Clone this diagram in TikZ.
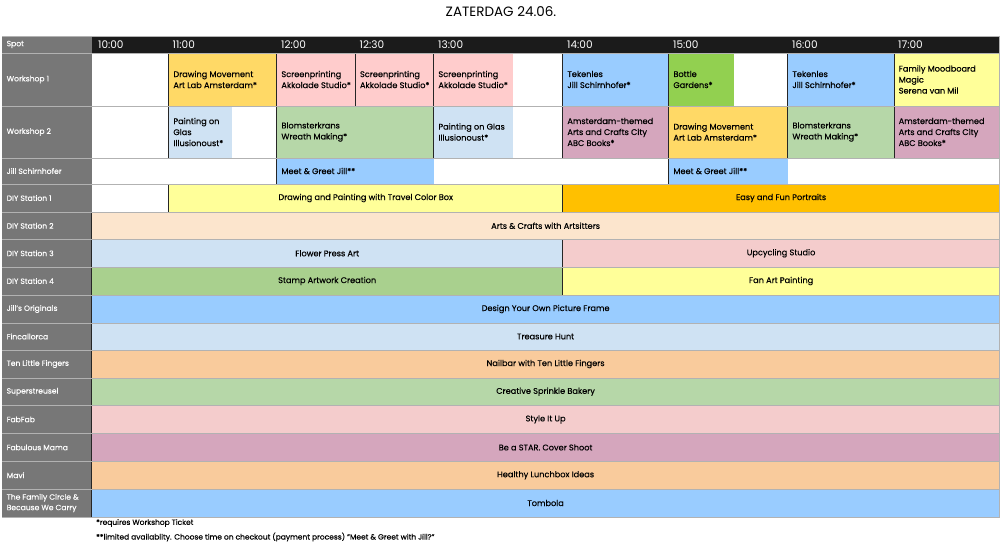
\documentclass[tikz,border=0pt]{standalone}
\usepackage{fontspec}
\setmainfont[FakeBold=0.35]{Poppins}
\newfontfamily\titlefont{Poppins}
\usepackage{tikz}

\definecolor{ochre}{HTML}{FFD966}
\definecolor{rose}{HTML}{FFCCCC}
\definecolor{sky}{HTML}{99CCFF}
\definecolor{lime}{HTML}{92D050}
\definecolor{lemon}{HTML}{FFFF99}
\definecolor{ice}{HTML}{CFE2F3}
\definecolor{sage}{HTML}{B6D7A8}
\definecolor{mauve}{HTML}{D5A6BD}
\definecolor{amber}{HTML}{FFC000}
\definecolor{peach}{HTML}{FCE5CD}
\definecolor{blush}{HTML}{F4CCCC}
\definecolor{moss}{HTML}{A9D08E}
\definecolor{apricot}{HTML}{F9CB9C}
\definecolor{spotgrey}{HTML}{777777}
\definecolor{headblack}{HTML}{1B1B1B}

\newcommand\slot[7]{%
  \fill[#6] (#2,#4) rectangle (#3,#5);
  \draw[edge] (#2,#4) -- (#2,#5);
  \node[txt,anchor=west] (#1) at ({#2+4.5},{(#4+#5)/2}) {#7};}
\newcommand\band[7]{%
  \fill[#6] (#2,#4) rectangle (#3,#5);
  \draw[edge] (#2,#4) -- (#2,#5);
  \node[txt] (#1) at ({(#2+#3)/2},{(#4+#5)/2}) {#7};}
\newcommand\spot[4]{%
  \node[lbl] (#1) at (6.5,{(#2+#3)/2}) {#4};}
\newcommand\hour[3]{%
  \node[hr] (#1) at (#2,44.5) {#3};}

\begin{document}
\begin{tikzpicture}[x=1pt,y=-1pt,
    txt/.style={inner sep=0pt,align=left,font=\fontsize{8.2}{11}\selectfont},
    lbl/.style={anchor=west,inner sep=0pt,align=left,text=white,font=\fontsize{7.6}{10.5}\selectfont},
    hr/.style={anchor=west,inner sep=0pt,text=white,font=\titlefont\fontsize{10.5}{11}\selectfont},
    edge/.style={draw=black!85,line width=0.8pt},
    rule/.style={draw=black!30,line width=0.9pt}]
  \useasboundingbox (0,0) rectangle (1000,543);
  \node[font=\titlefont\fontsize{13.5}{15}\selectfont] (title) at (501,12) {ZATERDAG 24.06.};
  \fill[spotgrey] (2,36) rectangle (91.7,517);
  \fill[headblack] (91.7,36) rectangle (999.5,53);
  \spot{spot}{36}{53}{Spot}
  \hour{h10}{98}{10:00}
  \hour{h11}{172.5}{11:00}
  \hour{h12}{281}{12:00}
  \hour{h1230}{359.5}{12:30}
  \hour{h13}{438}{13:00}
  \hour{h14}{567}{14:00}
  \hour{h15}{673}{15:00}
  \hour{h16}{792}{16:00}
  \hour{h17}{898}{17:00}
  \fill[white] (91.7,53) rectangle (999.5,212);

  \slot{wsa}{168.7}{276.7}{53}{106}{ochre}{Drawing Movement\\Art Lab Amsterdam*}
  \slot{wsb}{276.7}{355.3}{53}{106}{rose}{Screenprinting\\Akkolade Studio*}
  \slot{wsc}{355.3}{433.7}{53}{106}{rose}{Screenprinting\\Akkolade Studio*}
  \slot{wsd}{433.7}{512.7}{53}{106}{rose}{Screenprinting\\Akkolade Studio*}
  \slot{wse}{562.7}{668.7}{53}{106}{sky}{Tekenles\\Jill Schirnhofer*}
  \slot{wsf}{668.7}{734.3}{53}{106}{lime}{Bottle\\Gardens*}
  \slot{wsg}{787.7}{894}{53}{106}{sky}{Tekenles\\Jill Schirnhofer*}
  \slot{wsh}{894}{999.5}{53}{106}{lemon}{Family Moodboard\\Magic\\Serena van Mil}

  \slot{wta}{168.7}{231.7}{106}{158}{ice}{Painting on\\Glas\\Illusionoust*}
  \slot{wtb}{276.7}{433.7}{106}{158}{sage}{Blomsterkrans\\Wreath Making*}
  \slot{wtc}{433.7}{512.7}{106}{158}{ice}{Painting on Glas\\Illusionoust*}
  \slot{wtd}{562.7}{668.7}{106}{158}{mauve}{Amsterdam-themed\\Arts and Crafts City\\ABC Books*}
  \slot{wte}{668.7}{787.7}{106}{158}{ochre}{Drawing Movement\\Art Lab Amsterdam*}
  \slot{wtf}{787.7}{894}{106}{158}{sage}{Blomsterkrans\\Wreath Making*}
  \slot{wtg}{894}{999.5}{106}{158}{mauve}{Amsterdam-themed\\Arts and Crafts City\\ABC Books*}

  \slot{jma}{276.7}{433.7}{158}{184}{sky}{Meet \& Greet Jill**}
  \slot{jmb}{668.7}{787.7}{158}{184}{sky}{Meet \& Greet Jill**}

  \band{dia}{168.7}{562.7}{184}{212}{lemon}{Drawing and Painting with Travel Color Box}
  \band{dib}{562.7}{999.5}{184}{212}{amber}{Easy and Fun Portraits}
  \band{dii}{91.7}{999.5}{212}{239.5}{peach}{Arts \& Crafts with Artsitters}
  \band{diia}{91.7}{562.7}{239.5}{267}{ice}{Flower Press Art}
  \band{diib}{562.7}{999.5}{239.5}{267}{blush}{Upcycling Studio}
  \band{diva}{91.7}{562.7}{267}{295}{moss}{Stamp Artwork Creation}
  \band{divb}{562.7}{999.5}{267}{295}{lemon}{Fan Art Painting}
  \band{orig}{91.7}{999.5}{295}{323}{sky}{Design Your Own Picture Frame}
  \band{finc}{91.7}{999.5}{323}{350}{ice}{Treasure Hunt}
  \band{nail}{91.7}{999.5}{350}{378}{apricot}{Nailbar with Ten Little Fingers}
  \band{bake}{91.7}{999.5}{378}{405.5}{sage}{Creative Sprinkle Bakery}
  \band{style}{91.7}{999.5}{405.5}{433.3}{blush}{Style It Up}
  \band{star}{91.7}{999.5}{433.3}{461.5}{mauve}{Be a STAR. Cover Shoot}
  \band{lunch}{91.7}{999.5}{461.5}{489}{apricot}{Healthy Lunchbox Ideas}
  \band{tomb}{91.7}{999.5}{489}{517}{sky}{Tombola}

  \foreach \y in {36,53,106,158,184,212,239.5,267,295,323,350,378,405.5,433.3,461.5,489,517}
    \draw[rule] (2,\y) -- (999.5,\y);
  \draw[rule] (999.5,36) -- (999.5,517);

  \spot{wsone}{53}{106}{Workshop 1}
  \spot{wstwo}{106}{158}{Workshop 2}
  \spot{jill}{158}{184}{Jill Schirnhofer}
  \spot{diyone}{184}{212}{DIY Station 1}
  \spot{diytwo}{212}{239.5}{DIY Station 2}
  \spot{diythree}{239.5}{267}{DIY Station 3}
  \spot{diyfour}{267}{295}{DIY Station 4}
  \spot{jo}{295}{323}{Jill's Originals}
  \spot{fc}{323}{350}{Fincallorca}
  \spot{tlf}{350}{378}{Ten Little Fingers}
  \spot{ss}{378}{405.5}{Superstreusel}
  \spot{ff}{405.5}{433.3}{FabFab}
  \spot{fm}{433.3}{461.5}{Fabulous Mama}
  \spot{mv}{461.5}{489}{Mavi}
  \spot{fcb}{489}{517}{The Family Circle \&\\Because We Carry}

  \node[anchor=west,inner sep=0pt,font=\fontsize{7.5}{8}\selectfont] (noteone) at (96,523) {*requires Workshop Ticket};
  \node[anchor=west,inner sep=0pt,font=\fontsize{7.5}{8}\selectfont] (notetwo) at (96,537) {**limited availablity. Choose time on checkout (payment process) "Meet \& Greet with Jill?"};
\end{tikzpicture}
\end{document}
